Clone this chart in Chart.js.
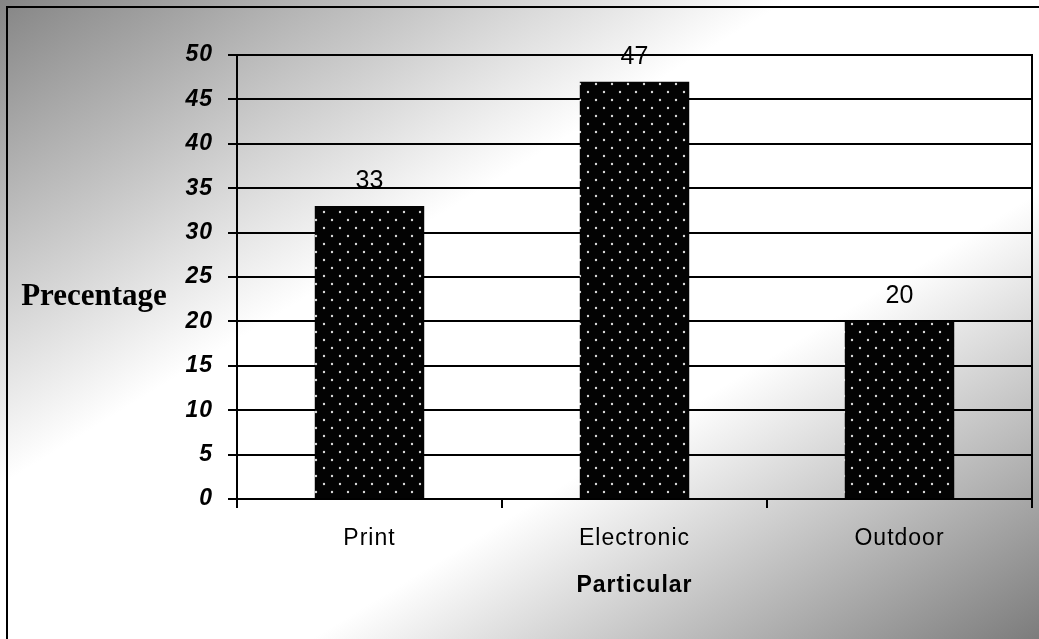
<!DOCTYPE html>
<html>
<head>
<meta charset="utf-8">
<script src="https://cdn.jsdelivr.net/npm/chart.js@4.4.1/dist/chart.umd.min.js"></script>
<style>
  html, body { margin: 0; padding: 0; background: #fff; }
  #wrap { width: 1039px; height: 639px; }
</style>
</head>
<body>
<div id="wrap"><canvas id="chart" width="1039" height="639"></canvas></div>
<script>
var categories = ["Print", "Electronic", "Outdoor"];
var percentages = [33, 47, 20];
var yTicks = [0, 5, 10, 15, 20, 25, 30, 35, 40, 45, 50];
var yTitle = "Precentage";
var xTitle = "Particular";

Chart.defaults.font.family = "'Liberation Sans', Arial, sans-serif";
Chart.defaults.color = '#000';

// dotted fill for the bars
function dotPattern(){
  var c = document.createElement('canvas');
  c.width = 16;
  c.height = 16;
  var g = c.getContext('2d');
  g.fillStyle = '#030303';
  g.fillRect(0, 0, 16, 16);
  g.fillStyle = '#d8d8d8';
  g.beginPath();
  g.arc(4, 4, 1.2, 0, Math.PI * 2);
  g.arc(12, 12, 1.2, 0, Math.PI * 2);
  g.fill();
  return document.getElementById('chart').getContext('2d').createPattern(c, 'repeat');
}

var backdrop = {
  id: 'backdrop',
  beforeUpdate: function(chart){
    chart.ctx.letterSpacing = '1px';
  },
  beforeDraw: function(chart){
    var ctx = chart.ctx;
    var w = chart.width, h = chart.height;
    ctx.letterSpacing = '1px';
    ctx.save();
    // gray in top-left and bottom-right corners, white along the other diagonal
    var len = Math.sqrt(w * w + h * h);
    var ux = h / len, uy = w / len;
    var reach = (w / 2 * h + h / 2 * w) / len;
    var grad = ctx.createLinearGradient(w / 2 - ux * reach, h / 2 - uy * reach, w / 2 + ux * reach, h / 2 + uy * reach);
    grad.addColorStop(0, '#858585');
    grad.addColorStop(0.38, '#ffffff');
    grad.addColorStop(0.65, '#ffffff');
    grad.addColorStop(1, '#7c7c7c');
    ctx.fillStyle = grad;
    ctx.fillRect(0, 0, w, h);
    ctx.strokeStyle = '#000';
    ctx.lineWidth = 2;
    ctx.strokeRect(7, 7, w + 20, h + 20);
    ctx.restore();
  },
  afterDraw: function(chart){
    var ctx = chart.ctx;
    var a = chart.chartArea;
    ctx.save();
    ctx.strokeStyle = '#000';
    ctx.lineWidth = 2;
    ctx.beginPath();
    ctx.moveTo(a.left, a.top);
    ctx.lineTo(a.right, a.top);
    ctx.lineTo(a.right, a.bottom);
    ctx.stroke();

    ctx.letterSpacing = '0px';
    ctx.fillStyle = '#000';
    ctx.font = "bold 31px 'Liberation Serif', 'Times New Roman', serif";
    ctx.textAlign = 'center';
    ctx.textBaseline = 'alphabetic';
    ctx.fillText(yTitle, 94, 305);
    ctx.restore();
  }
};

var barLabels = {
  id: 'barLabels',
  afterDatasetsDraw: function(chart){
    var ctx = chart.ctx;
    var meta = chart.getDatasetMeta(0);
    ctx.save();
    ctx.letterSpacing = '0px';
    ctx.fillStyle = '#000';
    ctx.font = "25px 'Liberation Sans', Arial, sans-serif";
    ctx.textAlign = 'center';
    ctx.textBaseline = 'alphabetic';
    meta.data.forEach(function(bar, i){
      ctx.fillText(String(percentages[i]), bar.x, bar.y - 18);
    });
    ctx.restore();
  }
};

var chart = new Chart(document.getElementById('chart'), {
  type: 'bar',
  data: {
    labels: categories,
    datasets: [{
      data: percentages,
      backgroundColor: dotPattern(),
      borderWidth: 0,
      barPercentage: 0.413,
      categoryPercentage: 1
    }]
  },
  options: {
    responsive: false,
    animation: false,
    devicePixelRatio: 1,
    layout: { padding: { top: 55, right: 7, left: 0, bottom: 0 } },
    plugins: {
      legend: { display: false },
      tooltip: { enabled: false }
    },
    scales: {
      x: {
        afterFit: function(scale){ scale.height = 140; },
        grid: {
          offset: true,
          drawOnChartArea: false,
          drawTicks: true,
          tickLength: 9,
          color: '#000',
          lineWidth: 2
        },
        border: { display: true, color: '#000', width: 2 },
        ticks: {
          padding: 17,
          font: { size: 23 }
        },
        title: {
          display: true,
          text: xTitle,
          font: { size: 23, weight: 'bold' },
          padding: { top: 14, bottom: 40 }
        }
      },
      y: {
        min: 0,
        max: 50,
        afterFit: function(scale){ scale.width = 237; },
        afterBuildTicks: function(scale){
          scale.ticks = yTicks.map(function(v){ return { value: v }; });
        },
        grid: {
          color: '#000',
          lineWidth: 2,
          tickLength: 9
        },
        border: { display: true, color: '#000', width: 2 },
        ticks: {
          padding: 15,
          font: { size: 23, weight: 'bold', style: 'italic' }
        }
      }
    }
  },
  plugins: [backdrop, barLabels]
});
</script>
</body>
</html>
